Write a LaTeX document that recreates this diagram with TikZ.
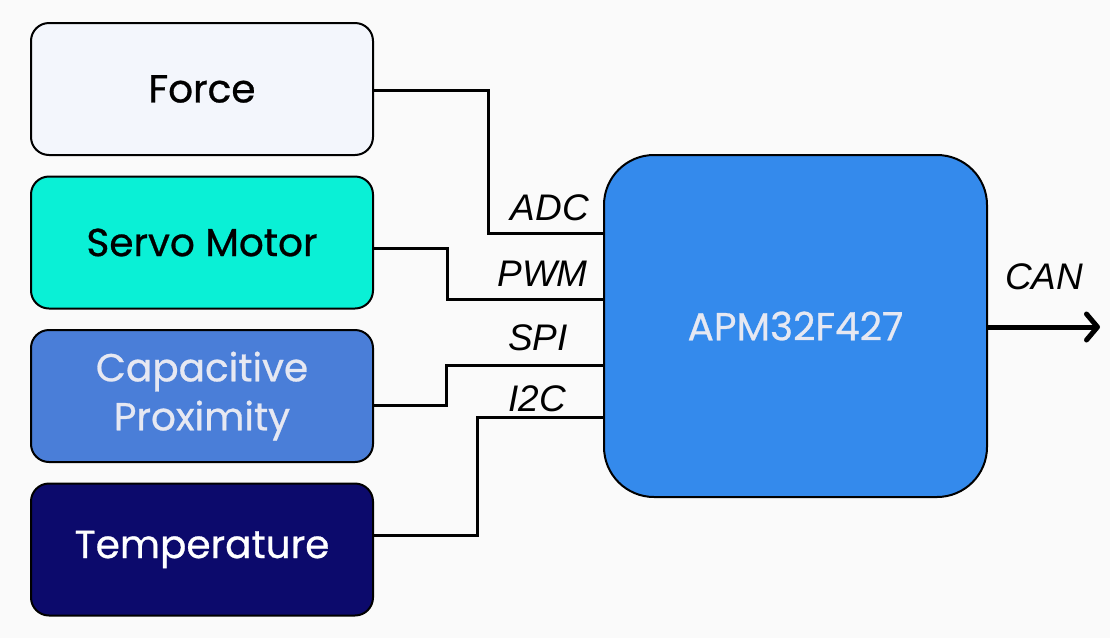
\documentclass[tikz,border=0pt]{standalone}
\usepackage{fontspec}
\setmainfont{Poppins}
\newfontfamily\boxfont{Poppins}[FakeBold=0.7]
\newfontfamily\labelfont{Liberation Sans}
\usetikzlibrary{arrows.meta}
\definecolor{bgc}{HTML}{FAFAFA}
\definecolor{forcec}{HTML}{F3F6FC}
\definecolor{servoc}{HTML}{0AF0D6}
\definecolor{capc}{HTML}{4A7ED8}
\definecolor{tempc}{HTML}{0C0A6C}
\definecolor{mcuc}{HTML}{348AEC}
\definecolor{lighttext}{HTML}{E6E8F2}
\tikzset{
  sensor/.style={draw=black, line width=2pt, rounded corners=18pt, minimum width=342pt, minimum height=132pt, align=center, font=\boxfont\fontsize{39}{49}\selectfont, inner sep=0pt},
  wire/.style={draw=black, line width=3pt},
  bus/.style={font=\labelfont\itshape\fontsize{37}{40}\selectfont, inner sep=0pt},
}
\begin{document}
\begin{tikzpicture}[x=1pt,y=-1pt]
\fill[bgc] (0,0) rectangle (1110,638);
\useasboundingbox (0,0) rectangle (1110,638);
\node[sensor, fill=forcec, text=black] (force) at (202,89) {Force};
\node[sensor, fill=servoc, text=black] (servo) at (202,242.5) {Servo Motor};
\node[sensor, fill=capc, text=lighttext] (cap) at (202,396) {Capacitive\\Proximity};
\node[sensor, fill=tempc, text=white] (temp) at (202,549.5) {Temperature};
\node[draw=black, line width=2pt, fill=mcuc, rounded corners=50pt, minimum width=383pt, minimum height=342pt, text=lighttext, font=\boxfont\fontsize{39}{44}\selectfont, inner sep=0pt] (mcu) at (795.5,326) {APM32F427};
\coordinate (canend) at (1100,327);
\draw[wire] ([yshift=-1pt]force.east) -- (488,90) |- (mcu.west |- 0,233);
\draw[wire] ([yshift=-5.5pt]servo.east) -- (447,248) |- (mcu.west |- 0,299);
\draw[wire] ([yshift=-9pt]cap.east) -- (446,405) |- (mcu.west |- 0,365);
\draw[wire] ([yshift=14.5pt]temp.east) -- (477,535) |- (mcu.west |- 0,417);
\draw[draw=black, line width=5pt, line join=round, -{Straight Barb[length=11pt,width=26pt,line width=5pt,round]}] (mcu.east |- canend) -- (canend);
\node[bus, anchor=base east] (adc) at (589,220) {ADC};
\node[bus, anchor=base east] (pwm) at (588,286) {PWM};
\node[bus, anchor=base east] (spi) at (568,350) {SPI};
\node[bus, anchor=base east] (i2c) at (566,411) {I2C};
\node[bus, anchor=base west] (can) at (1005,289) {CAN};
\end{tikzpicture}
\end{document}
